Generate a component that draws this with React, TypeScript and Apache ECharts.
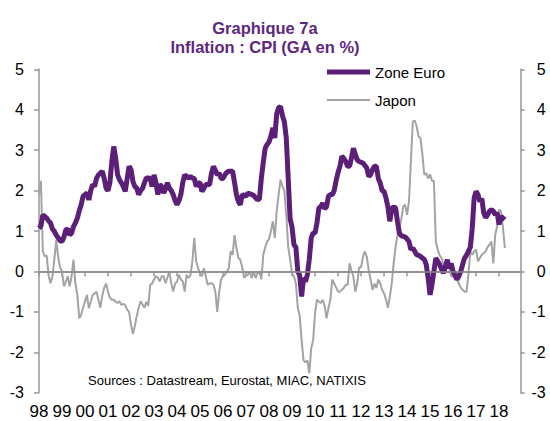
import React, { useEffect, useRef } from 'react';
import * as echarts from 'echarts';

const FONT = "'Liberation Sans', Arial, sans-serif";
const chartTitle = 'Graphique 7a\nInflation : CPI (GA en %)';
const sourceNote = 'Sources : Datastream, Eurostat, MIAC, NATIXIS';
const seriesNames = ['Zone Euro', 'Japon'];
const startYear = 1998;
const xMax = 2018.94;
const yearTicks = [1998, 1999, 2000, 2001, 2002, 2003, 2004, 2005, 2006, 2007, 2008, 2009, 2010, 2011, 2012, 2013, 2014, 2015, 2016, 2017, 2018];
const yMin = -3;
const yMax = 5;

// Monthly values, Jan 1998 -> Apr 2018
const zoneEuro = [
  1.07, 1.12, 1.4, 1.36, 1.32, 1.25, 1.2, 1.05, 0.99, 0.9, 0.83, 0.76,
  0.74, 0.85, 1.03, 1.05, 0.9, 0.95, 1.11, 1.2, 1.32, 1.5, 1.65, 1.86,
  1.9, 1.94, 1.77, 2.0, 2.15, 2.1, 2.3, 2.39, 2.43, 2.48, 2.3, 2.06,
  2.0, 2.2, 2.72, 3.09, 2.8, 2.39, 2.27, 2.19, 2.1, 1.98, 2.3, 2.6,
  2.52, 2.23, 2.1, 2.06, 1.9, 2.0, 2.05, 2.19, 2.31, 2.31, 2.3, 2.1,
  2.39, 2.2, 1.9, 2.15, 2.1, 1.94, 2.05, 2.19, 2.06, 2.0, 1.9, 1.75,
  1.65, 1.75, 1.9, 2.2, 2.39, 2.35, 2.31, 2.35, 2.31, 2.3, 2.1, 2.19,
  2.19, 1.98, 2.05, 2.15, 2.15, 2.15, 2.43, 2.6, 2.5, 2.39, 2.43, 2.3,
  2.3, 2.39, 2.45, 2.48, 2.48, 2.48, 2.2, 1.9, 1.73, 1.65, 1.9, 1.88,
  1.86, 1.94, 1.92, 1.9, 1.88, 1.82, 1.77, 1.8, 2.31, 2.7, 3.05, 3.14,
  3.2, 3.35, 3.55, 3.3, 3.9, 4.05, 4.08, 3.85, 3.7, 3.3, 2.3, 1.3,
  1.1, 0.66, 0.6, 0.0, -0.1, -0.62, -0.16, -0.25, -0.08, 0.3, 0.83, 0.95,
  0.95, 1.2, 1.57, 1.6, 1.69, 1.55, 1.6, 1.86, 1.9, 1.9, 2.0, 2.25,
  2.45, 2.6, 2.85, 2.8, 2.72, 2.6, 2.6, 2.81, 3.05, 2.9, 2.76, 2.72,
  2.7, 2.68, 2.62, 2.56, 2.35, 2.4, 2.52, 2.6, 2.6, 2.3, 2.19, 2.0,
  1.98, 1.82, 1.6, 1.24, 1.55, 1.6, 1.57, 1.24, 0.95, 0.88, 0.87, 0.85,
  0.8, 0.74, 0.54, 0.58, 0.5, 0.41, 0.4, 0.37, 0.33, 0.3, 0.17, -0.16,
  -0.58, -0.33, 0.0, 0.33, 0.25, 0.17, 0.05, -0.04, 0.12, 0.29, 0.08, 0.2,
  0.0, -0.1, -0.2, -0.12, 0.0, 0.17, 0.33, 0.4, 0.5, 0.6, 1.07, 1.82,
  1.98, 1.9, 1.73, 1.8, 1.45, 1.33, 1.4, 1.49, 1.53, 1.49, 1.4, 1.45,
  1.16, 1.36, 1.32, 1.28,
];

const japon = [
  1.9, 2.24, 0.5, 0.37, 0.4, -0.1, -0.29, -0.12, 0.3, 0.78, 0.35, 0.1,
  0.0, -0.37, -0.25, -0.12, -0.37, -0.12, 0.29, -0.3, -0.58, -1.16, -1.07, -0.9,
  -0.74, -0.58, -0.91, -0.75, -0.58, -0.55, -0.5, -0.7, -0.9, -0.6, -0.41, -0.3,
  -0.5, -0.66, -0.7, -0.7, -0.75, -0.78, -0.74, -0.83, -0.8, -0.83, -0.95, -1.0,
  -1.32, -1.55, -1.35, -1.1, -0.9, -0.74, -0.82, -0.9, -0.75, -0.85, -0.33, -0.3,
  -0.2, -0.12, -0.15, -0.25, -0.12, -0.12, -0.29, -0.15, 0.0, -0.3, -0.5, -0.3,
  -0.25, -0.08, -0.2, -0.25, -0.5, -0.08, -0.16, -0.1, 0.25, 0.83, 0.25, 0.08,
  -0.05, -0.12, 0.08, -0.12, -0.33, -0.3, -0.29, -0.33, -0.5, -1.0, -0.5, -0.2,
  -0.12, -0.08, 0.0, 0.08, 0.5, 0.41, 0.9, 0.58, 0.33, 0.29, 0.1, -0.16,
  -0.1, -0.08, 0.0, -0.16, 0.0, -0.16, -0.05, 0.0, -0.2, 0.41, 0.6, 0.74,
  0.8, 1.0, 1.24, 0.83, 1.5, 1.9, 2.27, 2.1, 2.0, 1.4, 0.6, 0.3,
  -0.05, -0.12, -0.29, -0.9, -1.1, -1.7, -2.2, -2.25, -2.2, -2.52, -1.9, -1.7,
  -1.04, -0.7, -0.75, -0.78, -0.7, -0.85, -1.16, -0.9, -0.7, -0.2, -0.3, -0.4,
  -0.5, -0.5, -0.45, -0.41, -0.33, -0.33, 0.2, 0.03, -0.13, -0.5, -0.3, 0.1,
  0.1, 0.36, 0.5, 0.36, 0.03, -0.2, -0.46, -0.3, -0.41, -0.2, -0.3, -0.46,
  -0.54, -0.7, -0.9, -0.62, -0.3, 0.2, 0.6, 0.9, 1.1, 1.3, 1.6, 1.65,
  1.4, 1.73, 2.72, 3.71, 3.73, 3.59, 3.34, 3.3, 2.89, 2.39, 2.43, 2.3,
  2.4, 2.25, 2.23, 0.74, 0.54, 0.4, 0.33, 0.17, 0.08, 0.17, 0.08, -0.12,
  -0.12, 0.0, -0.2, -0.3, -0.4, -0.45, -0.5, -0.5, -0.08, 0.5, 0.41, 0.5,
  0.54, 0.25, 0.33, 0.41, 0.45, 0.5, 0.6, 0.66, 0.74, 0.2, 0.91, 1.11,
  1.53, 1.49, 1.1, 0.58,
];

const PURPLE = '#5B1F78';
const TITLE_PURPLE = '#5E2680';
const GREY = '#A3A3A3';
const AXIS_GREY = '#979797';

const toPoints = (vals: number[]) => vals.map((v, i) => [startYear + i / 12, v]);

export default function App() {
  const ref = useRef<HTMLDivElement>(null);
  useEffect(() => {
    if (!ref.current) return;
    const chart = echarts.init(ref.current, null, { renderer: 'svg' });
    const yAxisBase = {
      type: 'value',
      min: yMin,
      max: yMax,
      interval: 1,
      splitLine: { show: false },
      axisLine: { show: true, lineStyle: { color: AXIS_GREY, width: 1.5 } },
      axisTick: { show: true, length: 5, lineStyle: { color: AXIS_GREY, width: 1.5 } },
    };
    chart.setOption({
      animation: false,
      textStyle: { fontFamily: FONT },
      title: {
        text: chartTitle,
        left: 260,
        top: 13,
        textAlign: 'center',
        textStyle: { fontFamily: FONT, fontSize: 16.5, fontWeight: 'bold', color: TITLE_PURPLE, lineHeight: 19.5 },
      },
      legend: [
        {
          data: [seriesNames[0]],
          left: 327,
          top: 64.5,
          padding: 0,
          icon: 'rect',
          itemWidth: 43,
          itemHeight: 5,
          textStyle: { fontFamily: FONT, fontSize: 15, color: '#000' },
        },
        {
          data: [seriesNames[1]],
          left: 327,
          top: 92.5,
          padding: 0,
          icon: 'rect',
          itemWidth: 43,
          itemHeight: 2,
          textStyle: { fontFamily: FONT, fontSize: 15, color: '#000' },
        },
      ],
      graphic: [
        {
          type: 'text',
          left: 88,
          top: 374,
          style: { text: sourceNote, font: `13px ${FONT}`, fill: '#000' },
        },
      ],
      grid: { left: 39, right: 29.3, top: 69.3, bottom: 28.3 },
      xAxis: {
        type: 'value',
        min: startYear,
        max: xMax,
        splitLine: { show: false },
        axisLine: { show: true, lineStyle: { color: AXIS_GREY, width: 1.5 } },
        axisTick: { show: true, length: 5, customValues: yearTicks, lineStyle: { color: AXIS_GREY, width: 1.5 } },
        axisLabel: {
          customValues: yearTicks,
          formatter: (v: number) => String(Math.round(v) % 100).padStart(2, '0'),
          fontFamily: FONT,
          fontSize: 17,
          color: '#000',
          margin: 10,
        },
      },
      yAxis: [
        {
          ...yAxisBase,
          position: 'left',
          axisLabel: { fontFamily: FONT, fontSize: 16, color: '#000', margin: 15 },
        },
        {
          ...yAxisBase,
          position: 'right',
          axisTick: { show: true, length: 4, lineStyle: { color: AXIS_GREY, width: 1.5 } },
          axisLabel: { fontFamily: FONT, fontSize: 16, color: '#000', margin: 25, align: 'right' },
        },
      ],
      series: [
        {
          name: seriesNames[1],
          type: 'line',
          data: toPoints(japon),
          showSymbol: false,
          symbol: 'none',
          lineStyle: { color: GREY, width: 2 },
          itemStyle: { color: GREY },
          z: 2,
          markLine: {
            silent: true,
            symbol: 'none',
            label: { show: false },
            lineStyle: { color: '#8A8A8A', width: 1.5, type: 'solid' },
            data: [{ yAxis: 0 }],
          },
        },
        {
          name: seriesNames[0],
          type: 'line',
          data: toPoints(zoneEuro),
          showSymbol: false,
          symbol: 'none',
          lineStyle: { color: PURPLE, width: 5 },
          itemStyle: { color: PURPLE },
          z: 3,
        },
      ],
    });
    return () => chart.dispose();
  }, []);
  return (
    <div
      ref={ref}
      style={{ position: 'fixed', left: 0, top: 0, width: 550, height: 421, background: '#fff' }}
    />
  );
}
